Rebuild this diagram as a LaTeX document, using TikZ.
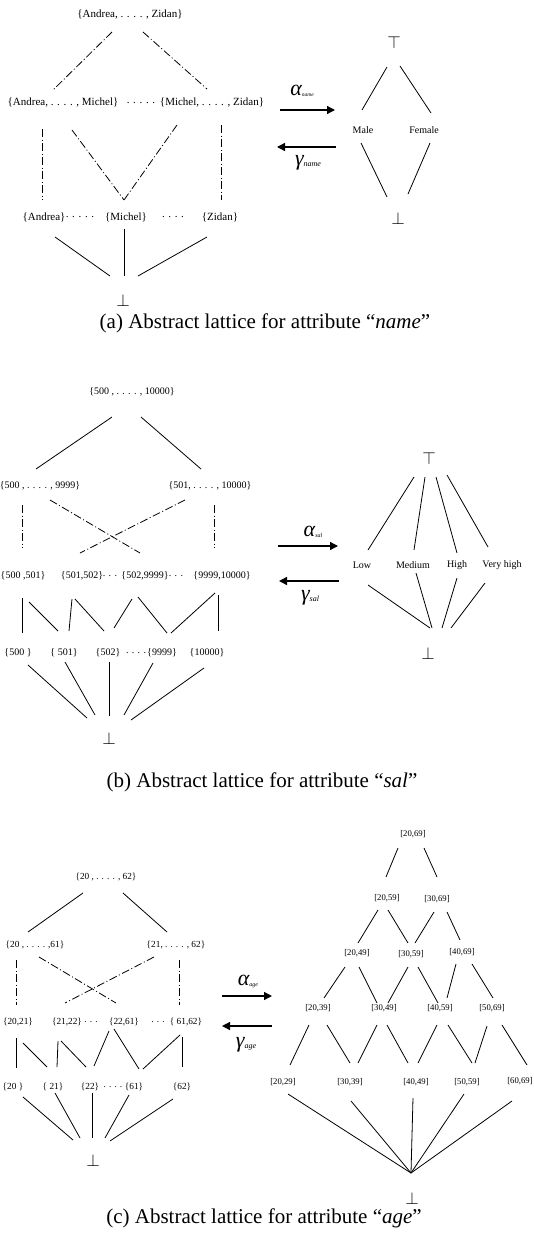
\documentclass[tikz,border=0pt]{standalone}
\usepackage{fontspec}
\setmainfont{Liberation Serif}
\usetikzlibrary{arrows.meta,calc}

\tikzset{
  elem/.style={inner sep=1pt,font=\fontsize{#1}{#1}\selectfont},
  elem/.default=10,
  bound/.style={inner sep=0pt,font=\fontsize{16}{16}\selectfont},
  latline/.style={line width=0.8pt},
  latdash/.style={line width=0.8pt,dash pattern=on 8pt off 2.5pt on 1pt off 2.5pt},
  galois/.style={line width=1.3pt,-{Triangle[length=8pt,width=8pt]}},
  figcap/.style={inner sep=0pt,font=\fontsize{21}{21}\selectfont}
}
\newcommand{\abslabel}[3]{{\fontsize{22}{22}\selectfont\itshape #1}\raisebox{-1pt}{\fontsize{#3}{#3}\selectfont\itshape #2}}

\begin{document}
\begin{tikzpicture}[x=1pt,y=1pt,yscale=-1,xscale=1]
\useasboundingbox (0,0) rectangle (533,1242);

%%% (a) attribute name
% Text Node
\node[elem=11] (aTop) at (130,15) {\{Andrea, . . . . , Zidan\}};
\node[elem=11] (aAM) at (63,103) {\{Andrea, . . . . , Michel\}};
\node[elem=11] (aDots1) at (141,103) {. . . . .};
\node[elem=11] (aMZ) at (212,103) {\{Michel, . . . . , Zidan\}};
\node[elem=11] (aA) at (44,217) {\{Andrea\}};
\node[elem=11] (aDots2) at (80,217) {. . . . .};
\node[elem=11] (aM) at (126,217) {\{Michel\}};
\node[elem=11] (aDots3) at (173,217) {. . . .};
\node[elem=11] (aZ) at (220,217) {\{Zidan\}};
\node[bound] (aBot) at (123,300) {$\bot$};
%Straight Lines
\draw[latdash] ($(aTop)+(-18,17)$) -- ($(aAM)+(-10,-13)$);
\draw[latdash] ($(aTop)+(13,17)$) -- ($(aMZ)+(-5,-14)$);
\draw[latdash] ($(aAM)+(-21,26)$) -- ($(aA)+(-2,-17)$);
\draw[latdash] ($(aAM)+(9,27)$) -- ($(aM)+(-2,-17)$);
\draw[latdash] ($(aMZ)+(-35,22)$) -- ($(aM)+(-2,-17)$);
\draw[latdash] ($(aMZ)+(9,22)$) -- ($(aZ)+(1,-17)$);
\draw[latline] ($(aA)+(11,20)$) -- ($(aBot)+(-13,-24)$);
\draw[latline] ($(aM)+(-2,12)$) -- ($(aBot)+(1,-24)$);
\draw[latline] ($(aZ)+(-13,20)$) -- ($(aBot)+(15,-24)$);

% Text Node
\node[bound] (aTopR) at (394,42) {$\top$};
\node[elem] (aMale) at (363,130) {Male};
\node[elem] (aFemale) at (424,130) {Female};
\node[bound] (aBotR) at (398,218) {$\bot$};
%Straight Lines
\draw[latline] ($(aTopR)+(-7,25)$) -- ($(aMale)+(-1,-20)$);
\draw[latline] ($(aTopR)+(6,24)$) -- ($(aFemale)+(7,-17)$);
\draw[latline] ($(aMale)+(-2,13)$) -- ($(aBotR)+(-11,-21)$);
\draw[latline] ($(aFemale)+(6,13)$) -- ($(aBotR)+(10,-24)$);

% Galois maps
\coordinate (aAlphaFrom) at (280,110);
\coordinate (aAlphaTo) at (335,110);
\coordinate (aGammaFrom) at (336,147);
\coordinate (aGammaTo) at (277,147);
\draw[galois] (aAlphaFrom) -- (aAlphaTo);
\draw[galois] (aGammaFrom) -- (aGammaTo);
\node (aAlpha) at (302,91) {\abslabel{α}{name}{5.5}};
\node (aGamma) at (308,163) {\abslabel{γ}{name}{8}};

\node[figcap] (capA) at (265,323) {(a) Abstract lattice for attribute “\textit{name}”};

%%% (b) attribute sal
% Text Node
\node[elem] (bTop) at (132,392) {\{500 , . . . . , 10000\}};
\node[elem] (bL) at (40,486) {\{500 , . . . . , 9999\}};
\node[elem] (bR) at (210,486) {\{501, . . . . , 10000\}};
\node[elem] (b1) at (23,576) {\{500 ,501\}};
\node[elem] (b2) at (82,576) {\{501,502\}};
\node[elem] (bDots1) at (110,576) {. . .};
\node[elem] (b3) at (145,576) {\{502,9999\}};
\node[elem] (bDots2) at (176,576) {. . .};
\node[elem] (b4) at (222,576) {\{9999,10000\}};
\node[elem] (s500) at (18,653) {\{500 \}};
\node[elem] (s501) at (64,653) {\{ 501\}};
\node[elem] (s502) at (108,653) {\{502\}};
\node[elem] (bDots3) at (136,653) {. . . .};
\node[elem] (s9999) at (162,653) {\{9999\}};
\node[elem] (s10000) at (207,653) {\{10000\}};
\node[bound] (bBot) at (109,738) {$\bot$};
%Straight Lines
\draw[latline] ($(bTop)+(-20,25)$) -- ($(bL)+(-4,-17)$);
\draw[latline] ($(bTop)+(9,25)$) -- ($(bR)+(-9,-17)$);
\draw[latdash] ($(bL)+(-18,19)$) -- ($(b1)+(-1,-28)$);
\draw[latdash] ($(bL)+(10,14)$) -- ($(b3)+(-5,-23)$);
\draw[latdash] ($(bR)+(-25,14)$) -- ($(b2)+(-2,-23)$);
\draw[latdash] ($(bR)+(4,19)$) -- ($(b4)+(-8,-28)$);
\draw[latline] ($(b1)+(-1,22)$) -- ($(s500)+(4,-20)$);
\draw[latline] ($(b1)+(6,26)$) -- ($(s501)+(-6,-22)$);
\draw[latline] ($(b2)+(-10,23)$) -- ($(s501)+(5,-22)$);
\draw[latline] ($(b2)+(-7,23)$) -- ($(s502)+(-4,-22)$);
\draw[latline] ($(b3)+(-13,23)$) -- ($(s502)+(6,-25)$);
\draw[latline] ($(b3)+(-7,21)$) -- ($(s9999)+(5,-20)$);
\draw[latline] ($(b4)+(-7,17)$) -- ($(s9999)+(9,-20)$);
\draw[latline] ($(b4)+(-4,19)$) -- ($(s10000)+(11,-22)$);
\draw[latline] ($(s500)+(10,12)$) -- ($(bBot)+(-22,-20)$);
\draw[latline] ($(s501)+(1,9)$) -- ($(bBot)+(-14,-23)$);
\draw[latline] ($(s502)+(1,9)$) -- ($(bBot)+(0,-22)$);
\draw[latline] ($(s9999)+(-9,10)$) -- ($(bBot)+(15,-23)$);
\draw[latline] ($(s10000)+(-3,15)$) -- ($(bBot)+(22,-18)$);

% Text Node
\node[bound] (bTopR) at (429,458) {$\top$};
\node[elem] (low) at (362,565) {Low};
\node[elem] (medium) at (413,565) {Medium};
\node[elem] (high) at (457,565) {High};
\node[elem] (vhigh) at (502,565) {Very high};
\node[bound] (bBotR) at (428,653) {$\bot$};
%Straight Lines
\draw[latline] ($(bTopR)+(-15,19)$) -- ($(low)+(6,-15)$);
\draw[latline] ($(bTopR)+(-4,19)$) -- ($(medium)+(1,-15)$);
\draw[latline] ($(bTopR)+(7,19)$) -- ($(high)+(0,-12)$);
\draw[latline] ($(bTopR)+(18,17)$) -- ($(vhigh)+(-14,-18)$);
\draw[latline] ($(low)+(6,20)$) -- ($(bBotR)+(2,-25)$);
\draw[latline] ($(medium)+(3,8)$) -- ($(bBotR)+(4,-25)$);
\draw[latline] ($(high)+(0,13)$) -- ($(bBotR)+(14,-25)$);
\draw[latline] ($(vhigh)+(-17,18)$) -- ($(bBotR)+(23,-25)$);

% Galois maps
\coordinate (bAlphaFrom) at (278,546);
\coordinate (bAlphaTo) at (338,546);
\coordinate (bGammaFrom) at (339,581);
\coordinate (bGammaTo) at (279,581);
\draw[galois] (bAlphaFrom) -- (bAlphaTo);
\draw[galois] (bGammaFrom) -- (bGammaTo);
\node (bAlpha) at (313,532) {\abslabel{α}{sal}{6}};
\node (bGamma) at (310,598) {\abslabel{γ}{sal}{8}};

\node[figcap] (capB) at (262,782) {(b) Abstract lattice for attribute “\textit{sal}”};

%%% (c) attribute age
% Text Node
\node[elem=9.3] (cTop) at (106,877) {\{20 , . . . . , 62\}};
\node[elem=9.3] (cL) at (35,945) {\{20 , . . . . ,61\}};
\node[elem=9.3] (cR) at (176,945) {\{21, . . . . , 62\}};
\node[elem=9.3] (c1) at (18,1022) {\{20,21\}};
\node[elem=9.3] (c2) at (67,1022) {\{21,22\}};
\node[elem=9.3] (cDots1) at (91,1022) {. . .};
\node[elem=9.3] (c3) at (124,1022) {\{22,61\}};
\node[elem=9.3] (cDots2) at (158,1022) {. . .};
\node[elem=9.3] (c4) at (186,1022) {\{ 61,62\}};
\node[elem=9.3] (a20) at (13,1087) {\{20 \}};
\node[elem=9.3] (a21) at (53,1087) {\{ 21\}};
\node[elem=9.3] (a22) at (90,1087) {\{22\}};
\node[elem=9.3] (cDots3) at (113,1087) {. . . .};
\node[elem=9.3] (a61) at (134,1087) {\{61\}};
\node[elem=9.3] (a62) at (182,1087) {\{62\}};
\node[bound] (cBot) at (93,1160) {$\bot$};
%Straight Lines
\draw[latline] ($(cTop)+(-23,16)$) -- ($(cL)+(-7,-13)$);
\draw[latline] ($(cTop)+(17,16)$) -- ($(cR)+(-9,-13)$);
\draw[latdash] ($(cL)+(-19,15)$) -- ($(c1)+(-2,-17)$);
\draw[latdash] ($(cL)+(4,12)$) -- ($(c3)+(-8,-19)$);
\draw[latdash] ($(cR)+(-22,12)$) -- ($(c2)+(-2,-19)$);
\draw[latdash] ($(cR)+(3,15)$) -- ($(c4)+(-7,-17)$);
\draw[latline] ($(c1)+(-2,16)$) -- ($(a20)+(3,-19)$);
\draw[latline] ($(c1)+(5,21)$) -- ($(a21)+(-6,-20)$);
\draw[latline] ($(c2)+(-9,19)$) -- ($(a21)+(4,-20)$);
\draw[latline] ($(c2)+(-6,19)$) -- ($(a22)+(-4,-20)$);
\draw[latline] ($(c3)+(-15,9)$) -- ($(a22)+(4,-21)$);
\draw[latline] ($(c3)+(-10,7)$) -- ($(a61)+(5,-18)$);
\draw[latline] ($(c4)+(-6,13)$) -- ($(a61)+(9,-18)$);
\draw[latline] ($(c4)+(-4,15)$) -- ($(a62)+(0,-20)$);
\draw[latline] ($(a20)+(10,10)$) -- ($(cBot)+(-20,-20)$);
\draw[latline] ($(a21)+(2,6)$) -- ($(cBot)+(-13,-22)$);
\draw[latline] ($(a22)+(2,6)$) -- ($(cBot)+(-1,-22)$);
\draw[latline] ($(a61)+(-5,8)$) -- ($(cBot)+(12,-22)$);
\draw[latline] ($(a62)+(-9,12)$) -- ($(cBot)+(17,-19)$);

% Text Node
\node[elem=8.7] (i2069) at (413,834) {[20,69]};
\node[elem=8.7] (i2059) at (387,898) {[20,59]};
\node[elem=8.7] (i3069) at (437,899) {[30,69]};
\node[elem=8.7] (i2049) at (357,953) {[20,49]};
\node[elem=8.7] (i3059) at (411,954) {[30,59]};
\node[elem=8.7] (i4069) at (462,952) {[40,69]};
\node[elem=8.7] (i2039) at (318,1008) {[20,39]};
\node[elem=8.7] (i3049) at (384,1008) {[30,49]};
\node[elem=8.7] (i4059) at (440,1008) {[40,59]};
\node[elem=8.7] (i5069) at (492,1008) {[50,69]};
\node[elem=8.7] (i2029) at (283,1082) {[20,29]};
\node[elem=8.7] (i3039) at (350,1082) {[30,39]};
\node[elem=8.7] (i4049) at (416,1082) {[40,49]};
\node[elem=8.7] (i5059) at (467,1082) {[50,59]};
\node[elem=8.7] (i6069) at (520,1081) {[60,69]};
\coordinate (cMeet) at (411,1173);
\node[bound] (cBotR) at (412,1198) {$\bot$};
%Straight Lines
\draw[latline] ($(i2069)+(-15,14)$) -- ($(i2059)+(-1,-21)$);
\draw[latline] ($(i2069)+(11,14)$) -- ($(i3069)+(0,-22)$);
\draw[latline] ($(i2059)+(-9,12)$) -- ($(i2049)+(1,-10)$);
\draw[latline] ($(i2059)+(1,12)$) -- ($(i3059)+(-3,-11)$);
\draw[latline] ($(i3069)+(-3,13)$) -- ($(i3059)+(4,-11)$);
\draw[latline] ($(i3069)+(10,13)$) -- ($(i4069)+(-2,-12)$);
\draw[latline] ($(i2049)+(-12,14)$) -- ($(i2039)+(6,-10)$);
\draw[latline] ($(i2049)+(2,14)$) -- ($(i3049)+(-7,-5)$);
\draw[latline] ($(i3059)+(-3,13)$) -- ($(i3049)+(4,-5)$);
\draw[latline] ($(i3059)+(7,13)$) -- ($(i4059)+(-2,-5)$);
\draw[latline] ($(i4069)+(-6,12)$) -- ($(i4059)+(7,-10)$);
\draw[latline] ($(i4069)+(10,12)$) -- ($(i5069)+(1,-10)$);
\draw[latline] ($(i2039)+(-9,17)$) -- ($(i2029)+(7,-17)$);
\draw[latline] ($(i2039)+(9,17)$) -- ($(i3039)+(0,-19)$);
\draw[latline] ($(i3049)+(-7,17)$) -- ($(i3039)+(8,-19)$);
\draw[latline] ($(i3049)+(3,17)$) -- ($(i4049)+(-8,-19)$);
\draw[latline] ($(i4059)+(-3,17)$) -- ($(i4049)+(2,-19)$);
\draw[latline] ($(i4059)+(8,17)$) -- ($(i5059)+(5,-19)$);
\draw[latline] ($(i5069)+(-5,18)$) -- ($(i5059)+(8,-19)$);
\draw[latline] ($(i5069)+(10,17)$) -- ($(i6069)+(7,-16)$);
\draw[latline] ($(i2029)+(5,12)$) -- (cMeet);
\draw[latline] ($(i3039)+(1,19)$) -- (cMeet);
\draw[latline] ($(i4049)+(-3,16)$) -- (cMeet);
\draw[latline] ($(i5059)+(-3,12)$) -- (cMeet);
\draw[latline] ($(i6069)+(-8,20)$) -- (cMeet);

% Galois maps
\coordinate (cAlphaFrom) at (222,996);
\coordinate (cAlphaTo) at (272,996);
\coordinate (cGammaFrom) at (272,1026);
\coordinate (cGammaTo) at (222,1026);
\draw[galois] (cAlphaFrom) -- (cAlphaTo);
\draw[galois] (cGammaFrom) -- (cGammaTo);
\node (cAlpha) at (248,981) {\abslabel{α}{age}{6}};
\node (cGamma) at (246,1045) {\abslabel{γ}{age}{8}};

\node[figcap] (capC) at (264,1218) {(c) Abstract lattice for attribute “\textit{age}”};
\end{tikzpicture}
\end{document}
